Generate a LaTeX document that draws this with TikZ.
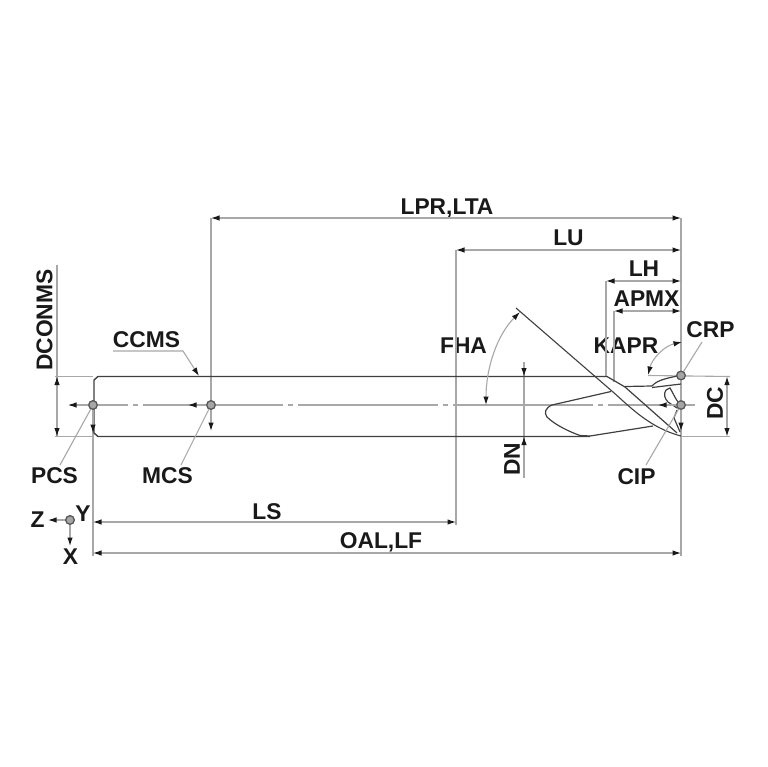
\documentclass[tikz,border=0pt]{standalone}
\usepackage{fontspec}
\setmainfont{Liberation Sans}
\usetikzlibrary{arrows.meta}
\definecolor{ext}{gray}{0.66}
\definecolor{body}{gray}{0.25}
\tikzset{
  lbl/.style={inner sep=0pt,text height=16.5pt,text depth=0pt,text=black!90,font=\fontsize{22.8}{23}\selectfont\bfseries},
  extline/.style={draw=ext,line width=1.1pt},
  tipd/.tip={Latex[length=8.5pt,width=5.5pt,black!90]},
  dim/.style={draw=ext,line width=1.1pt,{tipd}-{tipd}},
  arr/.style={draw=ext,line width=1.1pt,-{tipd}},
  outline/.style={draw=body,line width=1.4pt},
  flute/.style={draw=body,line width=1.2pt},
  point/.style={circle,draw=gray!70!black,fill=gray!70,line width=1.2pt,minimum size=8.5pt,inner sep=0pt},
}
\begin{document}
\begin{tikzpicture}[x=1pt,y=-1pt]
\useasboundingbox[fill=white] (0,0) rectangle (767,767);
% points
\node[point] (pcs) at (93,405) {};
\node[point] (mcs) at (211,405) {};
\node[point] (cip) at (681,405) {};
\node[point] (crp) at (681,375.5) {};
\node[point] (xyz) at (70,520) {};
% labels
\node[lbl] (tlpr) at (447,206.5) {LPR,LTA};
\node[lbl] (tlu) at (568.5,237) {LU};
\node[lbl] (tlh) at (644,268.5) {LH};
\node[lbl] (tapmx) at (646.5,298.5) {APMX};
\node[lbl] (tkapr) at (626,345) {KAPR};
\node[lbl] (tcrp) at (710.5,329) {CRP};
\node[lbl] (tfha) at (463.5,345) {FHA};
\node[lbl] (tccms) at (146.5,339) {CCMS};
\node[lbl,rotate=90] (tdconms) at (44,320) {DCONMS};
\node[lbl,rotate=90] (tdc) at (714.5,403.5) {DC};
\node[lbl,rotate=90] (tdn) at (511.5,459) {DN};
\node[lbl] (tpcs) at (54.5,475.5) {PCS};
\node[lbl] (tmcs) at (167.5,475.5) {MCS};
\node[lbl] (tcip) at (636.5,476) {CIP};
\node[lbl] (tls) at (267,511.5) {LS};
\node[lbl] (toal) at (381,540) {OAL,LF};
\node[lbl] (tz) at (37.5,519.5) {Z};
\node[lbl] (ty) at (83,513) {Y};
\node[lbl] (tx) at (70.5,556.5) {X};
% helper coordinates
\coordinate (lprL) at (211,218); \coordinate (lprR) at (681,218);
\coordinate (luL) at (456,250); \coordinate (luR) at (681,250);
\coordinate (lhL) at (606,281); \coordinate (lhR) at (681,281);
\coordinate (apL) at (614,311); \coordinate (apR) at (681,311);
\coordinate (lsL) at (93,522); \coordinate (lsR) at (456,522);
\coordinate (oalL) at (93,553); \coordinate (oalR) at (681,553);
\coordinate (dcT) at (727,376.5); \coordinate (dcB) at (727,436.5);
\coordinate (dcoT) at (57,376.5); \coordinate (dcoB) at (57,436.5);
% extension lines
\draw[extline] (lprR) -- (681,556);
\draw[extline] (lprL) -- (mcs);
\draw[extline] (luL) -- (456,525);
\draw[extline] (lhL) -- (606,377);
\draw[extline] (apL) -- (614,382);
\draw[extline] (pcs) -- (93,556);
\draw[extline] (648,375.5) -- (730,376.5);
\draw[extline] (681,436.5) -- (730,436.5);
\draw[extline] (57,265) -- (dcoB);
\draw[extline] (55,376.5) -- (93,376.5);
\draw[extline] (55,436.5) -- (93,436.5);
\draw[extline] (524,362) -- (524,478);
% centre line
\draw[extline,dash pattern=on 140pt off 5pt on 5pt off 5pt,dash phase=82pt] (70,405) -- (695,405);
% body
\draw[outline] (607,376.5) -- (98,376.5) -- (94,380) -- (94,433) -- (98,436.5) -- (590,436.5);
% helix lines
\draw[flute,line width=1.1pt] (516,308) -- (613,392) .. controls (630,407) and (650,428) .. (681,436);
\draw[flute] (607,376.5) -- (625,387) -- (677,433);
\draw[flute] (625,386.5) -- (652,386);
\draw[flute] (652,386) .. controls (658,379) and (670,378) .. (681,375);
\draw[flute] (652,387.5) -- (681,384);
\draw[flute] (611,391.5) -- (552,405) .. controls (545,408) and (544,413) .. (547,417) .. controls (555,425) and (570,432) .. (580,435.5) -- (590,436) -- (653,426);
\draw[flute] (666,390) .. controls (663,394) and (665,399) .. (668,402) -- (677,408);
\draw[flute] (666,390) -- (670,388) .. controls (673,393) and (675,398) .. (678,402);
\draw[flute] (677,410) -- (674,418) -- (680,432);
% dimension lines
\draw[dim] (lprL) -- (lprR);
\draw[dim] (luL) -- (luR);
\draw[dim] (lhL) -- (lhR);
\draw[dim] (apL) -- (apR);
\draw[dim] (lsL) -- (lsR);
\draw[dim] (oalL) -- (oalR);
\draw[dim] (dcT) -- (dcB);
\draw[dim] (dcoT) -- (dcoB);
\draw[arr] (524,366) -- (524,376.5);
\draw[arr] (524,446) -- (524,436.5);
\draw[dim] (486,405) .. controls (486,368) and (497,335) .. (520,312);
\draw[dim] (648,375) .. controls (652,359) and (664,346) .. (682,342);
% coordinate arrows
\draw[arr] (pcs) -- (68,405);
\draw[arr] (pcs) -- (93,433);
\draw[arr] (mcs) -- (188,405);
\draw[arr] (mcs) -- (211,431);
\draw[arr] (cip) -- (658,405);
\draw[arr] (cip) -- (681,431);
\draw[arr] (xyz) -- (48,520);
\draw[arr] (xyz) -- (70,546);
% leaders
\draw[extline] (pcs) -- (60,465);
\draw[extline] (mcs) -- (181,465);
\draw[extline] (cip) -- (646,465);
\draw[extline] (crp) -- (702,342);
\draw[arr] (113,351) -- (183,351) -- (199,376);
% redraw points on top
\node[point] at (pcs) {};
\node[point] at (mcs) {};
\node[point] at (cip) {};
\node[point] at (crp) {};
\node[point] at (xyz) {};
\end{tikzpicture}
\end{document}
